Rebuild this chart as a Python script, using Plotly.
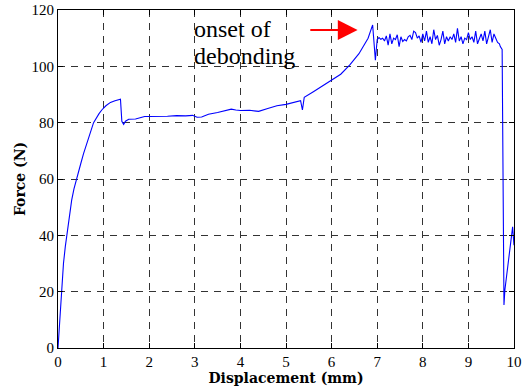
import plotly.graph_objects as go

disp = [0, 0.02, 0.05, 0.08, 0.12, 0.16, 0.2, 0.25, 0.3, 0.35, 0.41, 0.5, 0.56, 0.63, 0.7, 0.78, 0.9, 0.96, 1.05, 1.15, 1.25, 1.32, 1.37,
        1.40, 1.44, 1.48, 1.55, 1.7, 1.8, 1.9, 2.0, 2.2, 2.4, 2.6, 2.8, 2.95, 3.05, 3.15, 3.3, 3.5, 3.7, 3.8, 3.9, 4.0, 4.2, 4.4,
        4.6, 4.8, 5.0, 5.2, 5.32, 5.36, 5.40, 5.6, 5.8, 6.0, 6.2, 6.4, 6.6, 6.8, 6.9, 6.96,
        7.00, 7.04, 7.08, 7.12, 7.16, 7.20, 7.24, 7.28, 7.32, 7.36, 7.40, 7.44, 7.48, 7.52, 7.56, 7.60, 7.64, 7.68,
        7.72, 7.76, 7.80, 7.84, 7.88, 7.92, 7.96, 8.00, 8.04, 8.08, 8.12, 8.16, 8.20, 8.24, 8.28, 8.32, 8.36, 8.40,
        8.44, 8.48, 8.52, 8.56, 8.60, 8.64, 8.68, 8.72, 8.76, 8.80, 8.84, 8.88, 8.92, 8.96, 9.00, 9.04, 9.08, 9.12,
        9.16, 9.20, 9.24, 9.28, 9.32, 9.36, 9.40, 9.44, 9.48, 9.52, 9.56, 9.60, 9.64, 9.68, 9.70, 9.74,
        9.78, 9.80, 9.88, 9.97, 10.0]
force = [0, 5, 14, 22, 30, 36, 41, 47, 52.5, 56.5, 60.5, 65.5, 69, 72.5, 76, 80, 83.2, 84.5, 86, 87.2, 87.8, 88.1, 88.3,
         80.5, 79.4, 80.5, 81.2, 81.3, 81.7, 82.2, 82.2, 82.2, 82.3, 82.5, 82.4, 82.6, 81.9, 82.0, 83.0, 83.6, 84.5, 84.8, 84.5, 84.3, 84.4, 84.0,
         85.0, 86.0, 86.5, 87.2, 87.8, 84.5, 89.0, 91.0, 93.0, 94.9, 97.2, 100.5, 104.5, 110.0, 114.7, 102.2,
         109.5, 110.2, 109.6, 110.0, 109.0, 110.8, 107.5, 111.5, 108.0, 110.0, 109.5, 111.2, 107.0, 110.5, 108.8, 109.5, 109.0, 110.5,
         111.0, 109.5, 112.5, 112.0, 110.0, 110.8, 108.5, 111.5, 109.0, 112.5, 108.5, 110.5, 108.0, 113.0, 109.5, 111.0, 107.5, 109.5,
         112.5, 108.0, 110.5, 109.0, 110.5, 109.5, 111.5, 108.5, 113.5, 109.0, 110.5, 108.0, 110.0, 109.5, 112.0, 109.5, 110.5, 108.5,
         112.5, 108.0, 110.0, 111.5, 109.0, 112.5, 108.0, 110.5, 113.0, 108.5, 111.5, 110.0, 108.5, 108.0, 107.0, 106.0,
         15.3, 20.6, 32, 43, 36.5]

x_ticks = list(range(0, 11))
y_ticks = list(range(0, 121, 20))

SERIF = "Liberation Serif"

fig = go.Figure()
fig.add_trace(go.Scatter(x=disp, y=force, mode="lines",
                         line=dict(color="#0000ff", width=1.1), showlegend=False))

axis_common = dict(
    showline=True, linecolor="black", linewidth=1.2, mirror="ticks",
    ticks="inside", ticklen=5, tickcolor="black",
    showgrid=True, gridcolor="#333333", gridwidth=1, griddash="7px,6px",
    zeroline=False, automargin=False,
    tickfont=dict(family=SERIF, size=15, color="black"),
)

fig.update_xaxes(range=[0, 10], tickvals=x_ticks, ticktext=[str(v) for v in x_ticks],
                 title=dict(text="<b>Displacement (mm)</b>", standoff=2,
                            font=dict(family="DejaVu Serif", size=14, color="black")),
                 **axis_common)
fig.update_yaxes(range=[0, 120], tickvals=y_ticks, ticktext=[str(v) for v in y_ticks],
                 title=dict(text="<b>Force (N)</b>", standoff=2,
                            font=dict(family="DejaVu Serif", size=14, color="black")),
                 **axis_common)

fig.add_annotation(x=2.94, y=113.1, xref="x", yref="y",
                   text="onset of", showarrow=False,
                   xanchor="left", yanchor="middle", align="left",
                   font=dict(family=SERIF, size=24, color="black"))
fig.add_annotation(x=2.94, y=103.7, xref="x", yref="y",
                   text="debonding", showarrow=False,
                   xanchor="left", yanchor="middle", align="left",
                   font=dict(family=SERIF, size=24, color="black"))
fig.add_annotation(x=6.57, y=112.9, ax=5.5, ay=112.9, xref="x", yref="y", axref="x", ayref="y",
                   text="", showarrow=True, arrowhead=2, arrowsize=2.2, arrowwidth=1.8,
                   arrowcolor="#ff0000")

fig.update_layout(width=523, height=390, margin=dict(l=58, r=9, t=10, b=42),
                  paper_bgcolor="white", plot_bgcolor="white")

fig.write_html("out.html")
